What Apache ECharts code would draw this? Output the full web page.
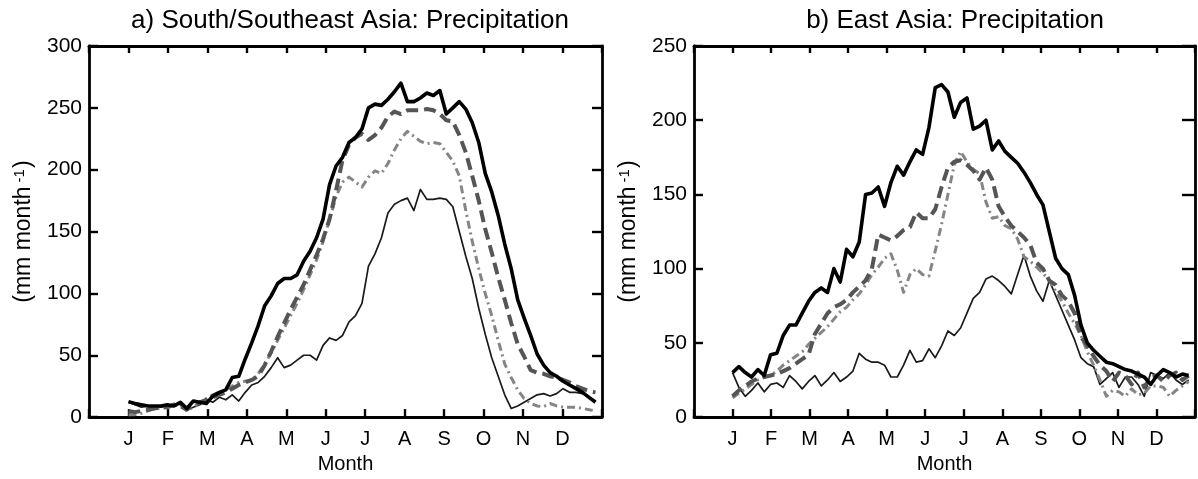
<!DOCTYPE html>
<html><head><meta charset="utf-8">
<script src="https://cdn.jsdelivr.net/npm/echarts@6/dist/echarts.min.js"></script>
<style>html,body{margin:0;padding:0;background:#fff;overflow:hidden}#c{width:1198px;height:479px}</style>
</head><body><div id="c"></div><script>
// ---- data (pentad means, 73 per year; mm/month) ----
const MONTH_LABELS = ['J','F','M','A','M','J','J','A','S','O','N','D'];
const PENTADS_PER_YEAR = 73;
const TITLE_A = 'a) South/Southeast Asia: Precipitation';
const TITLE_B = 'b) East Asia: Precipitation';
const X_NAME = 'Month';
const Y_NAME = '(mm month{s|-1})';
const Y_MAX_A = 300, Y_MAX_B = 250, Y_STEP = 50;

// a) South/Southeast Asia
const SA_THICK = [12.5,11,10,9,9,9,10,9,12,7, 13,12,11,17,20,22,32,33,47,60, 74,90,98,108,112,112,115,126,134,145, 160,188,203,210,222,226,233,250,253,252, 257,263,270,255,255,258,262,260,264,245, 250,255,249,238,222,197,182,163,140,120, 95,80,66,51,42,36,33,29,26,23, 20,16,12];
const SA_DASH  = [5,4,5,6,7,8,8,10,9,6, 10,12,14,16,18,20,23,26,28,30, 33,42,53,65,76,87,97,107,119,131, 144,160,183,208,220,226,229,224,228,234, 243,247,245,248,248,248,249,248,245,240, 239,228,214,195,175,152,133,113,95,76, 59,49,38,36,35,33,32,30,28,25, 23,21,20];
const SA_DOT   = [2,2,3,5,7,7,8,9,10,5, 8,12,15,18,20,22,25,28,29,30, 35,43,52,62,72,82,92,103,115,127, 142,160,178,190,194,190,186,194,199,197, 205,216,225,231,227,223,221,222,221,214, 207,195,167,142,120,100,82,62,43,32, 22,15,11,9,8.5,11,9,8,8,8, 7,6,5];
const SA_THIN  = [12,10,8,9,8,8,9,11,10,6, 8,10,14,12,16,14,18,13,20,26, 28,33,40,48,40,42,46,50,50,46, 58,64,62,66,77,82,92,122,132,145, 165,172,175,177,167,184,176,176,177,176, 170,150,130,112,88,67,48,33,18,7, 9,12,15,18,19,17,19,23,20,20, 19,16,13];

// b) East Asia
const EA_THICK = [30,34,30,27,32,28,42,43,55,62, 62,70,78,84,87,84,100,91,113,108, 118,150,151,155,142,158,169,163,172,180, 177,195,222,224,219,202,212,215,194,196, 200,180,186,179,175,171,165,158,150,143, 125,107,100,96,82,62,50,45,41,37, 36,34,32,31,29,27,22,28,32,30, 27,29,28];
const EA_DASH  = [14,18,21,24,26,27,28,29,31,33, 36,39,42,56,63,70,74,76,79,84, 88,92,100,123,121,119,122,126,128,138, 134,134,140,155,168,172,173,170,166,160, 168,160,142,135,129,125,121,116,104,100, 92,89,82,78,70,54,48,41,35,31, 24,30,28,22,30,20,27,28,24,28, 30,25,28];
const EA_DOT   = [13,16,19,22,25,27,28,31,35,38, 41,44,49,53,57,61,66,71,74,79, 83,89,96,101,107,110,99,84,96,100, 96,95,112,130,150,170,179,172,167,164, 145,134,135,129,127,120,108,105,101,97, 92,85,78,70,63,55,44,35,25,14, 18,17,14,19,15,16,21,21,20,14, 18,21,24];
const EA_THIN  = [30,20,14,18,23,17,22,23,20,28, 24,19,24,28,21,25,30,24,27,31, 43,39,37,37,35,27,27,35,45,37, 38,46,40,48,58,55,60,70,80,84, 93,95,92,88,83,96,109,95,85,78, 92,82,72,62,52,40,36,34,22,26, 30,20,27,27,22,14,30,28,26,30, 25,22,25];

// ---- chart ----
const FONT = 'Liberation Sans, Arial, Helvetica, sans-serif';
const MONTH_STEP = PENTADS_PER_YEAR / MONTH_LABELS.length;
const pairs = arr => arr.map((v, i) => [i, v]);

const STYLES = [
  {name: 'thick solid', color: '#000000', width: 3.6, type: 'solid'},
  {name: 'dashed',      color: '#555555', width: 4,   type: [12, 6]},
  {name: 'dash-dot',    color: '#858585', width: 3,   type: [8, 4, 2, 4]},
  {name: 'thin solid',  color: '#1a1a1a', width: 1.7, type: 'solid'}
];

const GRIDS = [
  {left: 89, top: 46, width: 513, height: 380.5},
  {left: 694, top: 46, width: 512, height: 380.5}
];

function xAxes(gi) {
  const base = {
    type: 'value', gridIndex: gi, min: -MONTH_STEP, max: PENTADS_PER_YEAR, interval: MONTH_STEP,
    splitLine: {show: false},
    axisLine: {show: true, onZero: false, lineStyle: {color: '#000', width: 2.8}},
    axisTick: {show: true, inside: true, length: 8, lineStyle: {color: '#000', width: 2.4}}
  };
  return [
    Object.assign({}, base, {
      position: 'bottom',
      name: X_NAME, nameLocation: 'middle', nameGap: 33,
      nameTextStyle: {fontSize: 20, color: '#000', fontFamily: FONT},
      axisLabel: {
        show: true, margin: 12, fontSize: 20, color: '#000', fontFamily: FONT,
        showMinLabel: true, showMaxLabel: true,
        formatter: v => { const k = Math.round(v / MONTH_STEP); return MONTH_LABELS[k] || ''; }
      }
    }),
    Object.assign({}, base, {position: 'top', axisLabel: {show: false}, axisTick: {show: true, inside: true, length: 7, lineStyle: {color: '#000', width: 2.4}}})
  ];
}

function yAxes(gi, max, rightTick) {
  const base = {
    type: 'value', gridIndex: gi, min: 0, max: max, interval: Y_STEP,
    splitLine: {show: false},
    axisLine: {show: true, onZero: false, lineStyle: {color: '#000', width: 2.8}},
    axisTick: {show: true, inside: true, length: 9, lineStyle: {color: '#000', width: 2.4}}
  };
  return [
    Object.assign({}, base, {
      position: 'left',
      name: Y_NAME, nameLocation: 'middle', nameGap: 54, nameRotate: 90,
      nameTextStyle: {fontSize: 23, color: '#000', fontFamily: FONT,
        rich: {s: {fontSize: 15, color: '#000', fontFamily: FONT, verticalAlign: 'top', padding: [0, 1, 0, 4]}}},
      axisLabel: {show: true, margin: 7, fontSize: 21, color: '#000', fontFamily: FONT}
    }),
    Object.assign({}, base, {position: 'right', axisLabel: {show: false},
      axisTick: {show: true, inside: true, length: rightTick, lineStyle: {color: '#000', width: 2.4}}})
  ];
}

function seriesFor(gi, arrays) {
  return arrays.map((arr, k) => ({
    type: 'line', name: STYLES[k].name, xAxisIndex: gi * 2, yAxisIndex: gi * 2,
    data: pairs(arr), showSymbol: false, symbol: 'none', smooth: false, animation: false,
    z: 10 - k,
    lineStyle: {color: STYLES[k].color, width: STYLES[k].width, type: STYLES[k].type, cap: 'butt', join: 'round'}
  }));
}

const chart = echarts.init(document.getElementById('c'), null, {renderer: 'canvas'});
chart.setOption({
  backgroundColor: '#ffffff',
  animation: false,
  title: [
    {text: TITLE_A, left: 345, top: 3, textAlign: 'center', textStyle: {fontSize: 26, fontWeight: 'normal', color: '#000', fontFamily: FONT}},
    {text: TITLE_B, left: 950, top: 3, textAlign: 'center', textStyle: {fontSize: 26, fontWeight: 'normal', color: '#000', fontFamily: FONT}}
  ],
  grid: GRIDS,
  xAxis: [...xAxes(0), ...xAxes(1)],
  yAxis: [...yAxes(0, Y_MAX_A, 10), ...yAxes(1, Y_MAX_B, 13)],
  series: [
    ...seriesFor(0, [SA_THICK, SA_DASH, SA_DOT, SA_THIN]),
    ...seriesFor(1, [EA_THICK, EA_DASH, EA_DOT, EA_THIN])
  ]
});
</script></body></html>
